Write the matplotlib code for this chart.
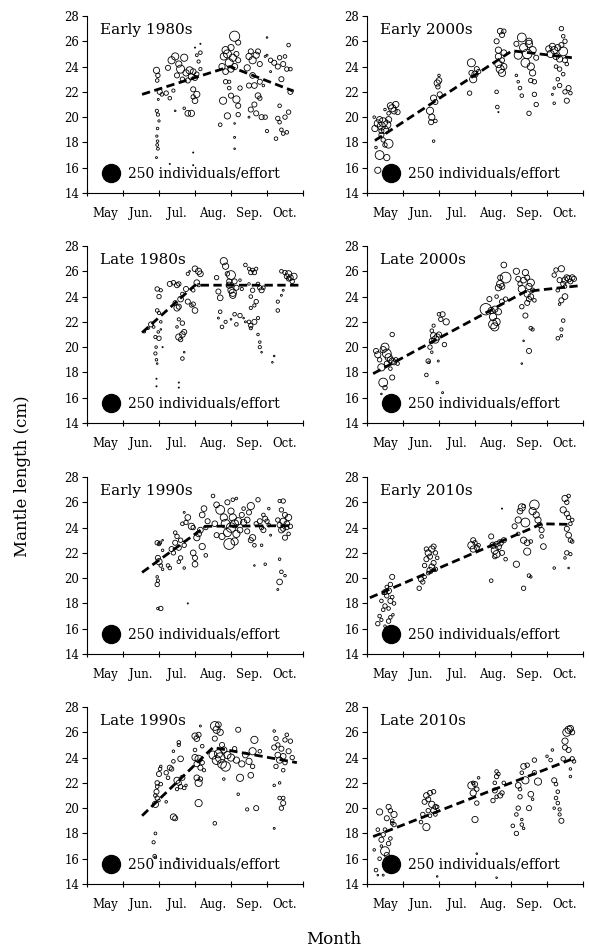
import matplotlib
matplotlib.use('Agg')
import matplotlib.pyplot as plt
import numpy as np

# Police serif proche de Cambria
plt.rcParams['font.family'] = ['DejaVu Serif']

# Mois (0 = début mai, 6 = fin octobre), étiquettes au milieu de chaque mois
month_labels = ['May', 'Jun.', 'Jul.', 'Aug.', 'Sep.', 'Oct.']
panel_names = ['Early 1980s', 'Early 2000s', 'Late 1980s', 'Late 2000s',
               'Early 1990s', 'Early 2010s', 'Late 1990s', 'Late 2010s']

# Points (mois, longueur du manteau en cm, individus/effort)
early_1980s = [
    (1.93, 23.7, 30), (1.97, 23.3, 15), (1.95, 22.9, 10), (2.02, 22.0, 20), (2.08, 21.8, 10),
    (1.94, 20.5, 8), (1.97, 20.2, 8), (2.0, 19.7, 4), (1.96, 19.1, 5), (1.94, 18.5, 4),
    (1.96, 18.1, 5), (1.95, 17.8, 6), (1.97, 17.5, 6), (1.93, 16.8, 3), (1.98, 21.4, 3),
    (2.25, 23.9, 20), (2.35, 24.5, 40), (2.45, 24.8, 40), (2.55, 24.2, 30), (2.6, 23.8, 50),
    (2.7, 24.7, 40), (2.75, 23.5, 30), (2.85, 23.7, 40), (2.9, 23.2, 30), (2.95, 23.6, 25),
    (3.0, 23.1, 20), (3.05, 23.4, 15), (2.5, 23.3, 20), (2.65, 23.0, 15), (2.8, 22.9, 20),
    (2.2, 21.9, 15), (2.3, 21.5, 10), (2.4, 22.1, 8), (2.95, 22.2, 20), (3.05, 21.8, 30),
    (3.0, 21.3, 25), (2.95, 21.6, 15), (2.8, 20.3, 25), (2.9, 20.3, 30), (2.7, 20.7, 5),
    (3.15, 25.1, 10), (3.1, 24.4, 8), (3.15, 23.8, 8), (3.05, 24.9, 6), (2.45, 20.5, 2),
    (2.3, 16.3, 1), (2.95, 17.2, 1), (2.95, 16.2, 1), (3.0, 25.5, 1), (3.15, 25.8, 1),
    (3.75, 24.0, 30), (3.8, 24.8, 40), (3.85, 25.3, 40), (3.9, 25.0, 50), (3.95, 24.3, 50),
    (4.0, 25.5, 30), (4.05, 24.7, 40), (4.1, 24.0, 30), (4.15, 25.0, 20), (4.2, 24.5, 20),
    (3.85, 23.6, 25), (4.0, 23.8, 30), (4.1, 26.4, 80), (4.2, 25.9, 20), (3.85, 22.8, 15),
    (3.95, 22.3, 10), (3.78, 21.3, 40), (3.7, 19.4, 10), (4.0, 21.7, 20), (3.9, 20.1, 30),
    (4.15, 21.4, 40), (4.2, 20.9, 20), (4.2, 20.2, 15), (4.25, 22.3, 15), (4.1, 19.5, 2),
    (4.1, 18.4, 3), (4.1, 17.5, 2), (3.95, 22.8, 8),
    (4.45, 23.9, 30), (4.5, 24.8, 30), (4.55, 25.2, 20), (4.6, 24.5, 40), (4.7, 24.9, 30),
    (4.75, 25.2, 20), (4.8, 24.2, 20), (4.6, 23.3, 25), (4.5, 22.5, 20), (4.65, 22.5, 25),
    (4.8, 22.8, 20), (4.75, 21.7, 25), (4.55, 20.6, 20), (4.65, 21.0, 20), (4.7, 20.3, 20),
    (4.85, 20.0, 20), (4.8, 21.5, 15), (4.5, 20.0, 3), (4.95, 20.0, 15), (4.9, 22.5, 5),
    (4.95, 24.8, 3), (5.0, 26.3, 2), (5.0, 18.9, 8),
    (5.1, 24.5, 15), (5.2, 24.3, 20), (5.3, 24.0, 20), (5.35, 24.7, 15), (5.45, 24.2, 20),
    (5.5, 24.8, 10), (5.55, 23.8, 15), (5.4, 23.0, 20), (5.6, 25.7, 10), (5.65, 23.8, 10),
    (5.65, 22.0, 20), (5.7, 22.1, 5), (5.35, 20.9, 10), (5.3, 19.9, 15), (5.35, 19.6, 10),
    (5.5, 20.0, 15), (5.6, 20.4, 15), (5.4, 19.0, 10), (5.45, 18.7, 10), (5.25, 18.3, 10),
    (5.55, 18.8, 10), (5.1, 23.6, 3), (5.0, 24.9, 3),
]

late_1980s = [
    (1.6, 21.2, 3), (1.7, 21.5, 5), (1.78, 21.8, 20), (1.85, 21.6, 6), (1.9, 20.8, 8),
    (1.95, 22.9, 10), (2.0, 22.7, 8), (1.95, 24.6, 15), (2.0, 24.0, 15), (2.05, 24.5, 8),
    (2.05, 22.0, 5), (2.0, 20.7, 15), (1.98, 21.2, 5), (1.92, 20.0, 5), (1.9, 19.5, 8),
    (1.93, 19.0, 5), (1.95, 18.7, 2), (1.93, 17.5, 1), (1.93, 16.9, 1), (2.1, 20.0, 1),
    (2.05, 21.4, 2),
    (2.3, 25.0, 20), (2.4, 25.1, 15), (2.5, 24.9, 20), (2.55, 25.0, 15), (2.45, 23.5, 15),
    (2.5, 23.1, 30), (2.55, 23.2, 20), (2.6, 23.8, 25), (2.65, 24.2, 10), (2.75, 24.6, 20),
    (2.8, 23.6, 20), (2.95, 23.4, 15), (3.0, 22.9, 25), (2.9, 23.3, 10), (2.55, 22.2, 8),
    (2.55, 20.8, 30), (2.65, 21.0, 25), (2.6, 20.6, 15), (2.7, 21.2, 20), (2.65, 21.9, 15),
    (2.5, 21.6, 5), (2.65, 19.1, 10), (2.7, 19.6, 2), (2.55, 17.2, 1), (2.55, 16.8, 1),
    (2.8, 25.8, 8), (2.85, 26.0, 2), (3.0, 26.2, 25), (3.1, 26.0, 30), (3.15, 25.8, 25),
    (3.05, 25.1, 25), (2.95, 24.5, 10), (3.1, 24.9, 8),
    (3.6, 25.5, 15), (3.65, 24.4, 20), (3.7, 23.9, 25), (3.65, 22.3, 3), (3.7, 22.8, 10),
    (3.75, 21.6, 10), (3.85, 22.0, 8), (3.8, 26.8, 40), (3.85, 26.4, 30), (3.9, 25.8, 15),
    (3.95, 24.9, 30), (4.0, 24.5, 30), (4.05, 24.3, 40), (4.0, 25.7, 60), (4.1, 25.2, 20),
    (4.15, 24.7, 20), (4.05, 24.1, 30), (3.95, 25.2, 20), (4.0, 22.2, 2), (4.1, 22.6, 10),
    (4.15, 21.8, 10), (4.25, 22.5, 15), (4.3, 24.6, 8), (4.25, 25.3, 5),
    (4.4, 26.5, 10), (4.5, 26.2, 8), (4.55, 25.9, 15), (4.6, 26.1, 10), (4.65, 25.9, 15),
    (4.7, 26.2, 8), (4.5, 25.0, 5), (4.6, 24.5, 15), (4.55, 24.0, 10), (4.75, 25.0, 10),
    (4.8, 24.7, 15), (4.85, 24.5, 20), (4.9, 24.7, 10), (4.7, 23.6, 15), (4.55, 23.1, 8),
    (4.65, 23.3, 8), (4.75, 22.3, 8), (4.5, 22.0, 10), (4.55, 21.7, 15), (4.65, 22.0, 20),
    (4.55, 21.5, 8), (4.75, 21.0, 5), (4.8, 20.4, 5), (4.8, 20.0, 8), (4.85, 19.6, 2),
    (4.4, 22.0, 3), (4.35, 22.3, 2),
    (5.3, 23.6, 8), (5.3, 22.9, 10), (5.4, 24.1, 3), (5.45, 24.5, 3), (5.4, 26.0, 10),
    (5.5, 25.9, 15), (5.55, 25.6, 20), (5.6, 25.8, 30), (5.65, 25.5, 25), (5.7, 25.2, 15),
    (5.75, 25.6, 30), (5.6, 25.4, 15), (5.2, 19.3, 2), (5.15, 18.8, 2),
]

early_1990s = [
    (1.95, 22.8, 15), (2.0, 22.7, 10), (2.03, 22.8, 8), (1.97, 21.6, 20), (2.0, 21.3, 30),
    (2.05, 21.0, 10), (2.1, 20.7, 5), (1.95, 20.1, 5), (1.97, 19.8, 8), (1.95, 19.5, 15),
    (1.97, 17.6, 5), (2.05, 17.6, 15), (2.1, 22.2, 5),
    (2.25, 21.0, 10), (2.3, 20.8, 10), (2.35, 22.3, 20), (2.4, 22.0, 15), (2.45, 22.8, 20),
    (2.5, 23.3, 15), (2.45, 23.6, 10), (2.55, 22.4, 20), (2.6, 21.6, 15), (2.55, 21.3, 10),
    (2.7, 20.8, 5), (2.6, 23.0, 15), (2.7, 22.6, 15), (2.65, 24.3, 10), (2.75, 24.4, 15),
    (2.8, 24.8, 25), (2.9, 24.1, 30), (2.95, 24.0, 15), (2.95, 22.0, 25), (3.0, 21.6, 20),
    (3.0, 21.1, 25), (3.05, 23.2, 30), (3.1, 23.5, 25), (3.15, 23.8, 25), (3.2, 22.5, 30),
    (3.2, 25.0, 25), (3.3, 24.0, 15), (3.35, 24.5, 20), (3.25, 25.5, 25), (3.3, 21.8, 10),
    (2.8, 18.0, 1), (2.7, 25.2, 3), (2.1, 23.0, 2),
    (3.5, 26.5, 10), (3.6, 25.8, 25), (3.7, 25.4, 60), (3.8, 24.8, 40), (3.85, 24.3, 60),
    (3.9, 23.6, 50), (3.95, 22.7, 90), (4.0, 24.0, 70), (4.05, 24.8, 40), (4.1, 24.3, 50),
    (4.15, 23.5, 40), (4.2, 24.5, 40), (4.0, 25.3, 30), (3.9, 26.0, 20), (4.05, 26.2, 10),
    (4.15, 26.3, 5), (3.75, 23.3, 30), (4.1, 22.9, 40), (3.55, 24.3, 25), (3.6, 23.4, 20),
    (4.3, 25.0, 20), (4.35, 24.4, 30), (4.25, 23.8, 25), (4.45, 24.6, 25), (4.5, 25.2, 20),
    (4.55, 25.7, 40), (4.45, 23.7, 20), (4.6, 23.2, 30), (4.55, 23.0, 20), (4.65, 22.6, 10),
    (4.65, 21.0, 2), (4.35, 25.5, 10),
    (4.75, 26.2, 15), (4.7, 24.3, 15), (4.8, 24.5, 20), (4.85, 24.0, 15), (4.9, 25.0, 10),
    (4.95, 24.7, 20), (4.9, 23.8, 20), (5.0, 24.5, 15), (5.05, 24.2, 10), (4.85, 22.6, 5),
    (4.95, 21.1, 5), (5.05, 25.5, 5), (5.1, 23.4, 3),
    (5.35, 26.1, 8), (5.45, 26.1, 15), (5.3, 24.6, 15), (5.35, 24.2, 20), (5.4, 23.8, 25),
    (5.45, 24.5, 30), (5.5, 25.0, 20), (5.55, 24.3, 25), (5.6, 24.8, 30), (5.4, 25.4, 15),
    (5.5, 23.2, 20), (5.6, 23.5, 10), (5.45, 23.9, 20), (5.65, 24.1, 15), (5.35, 21.5, 5),
    (5.4, 20.5, 10), (5.35, 19.7, 25), (5.5, 20.2, 5), (5.3, 19.1, 3), (5.55, 24.0, 15),
]

late_1990s = [
    (1.85, 17.3, 8), (1.9, 18.0, 6), (1.88, 16.2, 10), (1.9, 16.1, 5), (1.9, 20.3, 30),
    (1.95, 20.8, 15), (1.93, 21.3, 20), (1.9, 21.0, 10), (1.95, 22.0, 15), (2.0, 22.7, 20),
    (2.03, 23.1, 10), (2.05, 23.3, 5), (1.95, 21.7, 10), (2.05, 21.9, 10), (2.0, 20.6, 5),
    (2.2, 22.8, 15), (2.25, 22.4, 10), (2.3, 23.2, 20), (2.35, 23.1, 15), (2.4, 23.7, 10),
    (2.4, 24.5, 5), (2.4, 19.3, 30), (2.45, 19.2, 20), (2.2, 20.5, 5), (2.5, 22.2, 30),
    (2.55, 22.0, 20), (2.6, 21.7, 15), (2.65, 22.4, 20), (2.7, 21.6, 10), (2.6, 23.9, 25),
    (2.55, 25.2, 10), (2.55, 25.0, 8), (2.75, 21.8, 5), (2.5, 21.5, 8), (2.5, 16.0, 2),
    (3.0, 25.7, 30), (3.05, 25.5, 25), (3.1, 25.8, 20), (3.0, 24.0, 30), (3.05, 23.5, 25),
    (3.1, 23.9, 40), (3.15, 23.2, 20), (3.2, 23.6, 15), (3.05, 22.4, 25), (3.1, 22.0, 40),
    (3.15, 22.3, 15), (3.0, 24.6, 10), (3.1, 20.4, 40), (3.2, 24.9, 10), (3.15, 26.5, 3),
    (3.25, 23.0, 8), (3.55, 18.8, 10), (3.55, 26.5, 60), (3.6, 26.2, 40), (3.65, 26.6, 25),
    (3.7, 26.0, 30), (3.5, 24.2, 50), (3.6, 23.8, 60), (3.65, 24.3, 50), (3.7, 24.0, 70),
    (3.75, 23.5, 60), (3.85, 23.3, 70), (3.8, 24.6, 30), (3.9, 24.2, 40), (3.55, 25.5, 20),
    (3.75, 25.0, 20), (3.8, 22.3, 5),
    (4.0, 24.0, 40), (4.15, 23.8, 30), (4.2, 26.2, 20), (4.25, 22.4, 40), (4.3, 23.5, 30),
    (4.4, 24.2, 25), (4.5, 23.7, 30), (4.6, 24.5, 40), (4.65, 25.4, 40), (4.55, 22.6, 25),
    (4.6, 23.3, 15), (4.7, 20.0, 20), (4.45, 19.9, 8), (4.2, 21.1, 5), (4.1, 24.7, 15),
    (4.8, 24.5, 10),
    (5.2, 24.8, 20), (5.25, 25.5, 15), (5.3, 24.2, 25), (5.35, 23.8, 30), (5.3, 25.0, 15),
    (5.4, 24.7, 20), (5.45, 24.1, 25), (5.5, 25.4, 15), (5.55, 25.8, 10), (5.6, 24.5, 20),
    (5.65, 25.3, 15), (5.7, 24.0, 15), (5.25, 23.3, 15), (5.45, 23.0, 10), (5.35, 22.0, 5),
    (5.2, 21.8, 5), (5.35, 20.8, 10), (5.45, 20.8, 10), (5.4, 20.0, 15), (5.45, 20.4, 20),
    (5.2, 18.4, 3), (5.5, 23.6, 15), (5.2, 26.1, 5),
]

early_2000s = [
    (0.2, 20.0, 5), (0.22, 19.1, 30), (0.3, 19.5, 40), (0.35, 19.8, 30), (0.4, 19.3, 50),
    (0.45, 19.6, 60), (0.5, 19.0, 40), (0.55, 19.4, 50), (0.6, 19.8, 30), (0.4, 18.6, 20),
    (0.45, 18.2, 15), (0.5, 17.8, 15), (0.6, 17.9, 60), (0.35, 17.0, 60), (0.55, 16.8, 30),
    (0.3, 15.8, 30), (0.25, 17.6, 5), (0.65, 20.9, 30), (0.7, 20.7, 40), (0.75, 20.5, 30),
    (0.8, 21.0, 30), (0.85, 20.4, 20), (0.6, 20.3, 10), (0.5, 20.6, 5), (0.4, 18.9, 20),
    (1.75, 20.5, 40), (1.8, 20.0, 30), (1.78, 19.6, 20), (1.85, 21.5, 30), (1.9, 21.2, 20),
    (1.95, 22.7, 30), (2.0, 22.9, 25), (1.97, 22.4, 15), (2.0, 23.3, 5), (1.85, 18.1, 5),
    (1.9, 19.7, 10), (2.02, 21.8, 20),
    (2.9, 24.3, 50), (2.95, 23.0, 40), (3.0, 23.4, 30), (3.05, 23.8, 20), (2.85, 21.9, 15),
    (3.1, 23.6, 15), (2.9, 23.5, 20),
    (3.6, 26.0, 20), (3.65, 25.3, 30), (3.7, 26.8, 25), (3.75, 26.5, 20), (3.8, 26.8, 15),
    (3.65, 24.2, 40), (3.7, 23.8, 50), (3.75, 23.5, 40), (3.8, 24.0, 30), (3.65, 24.8, 30),
    (3.8, 25.1, 25), (3.6, 22.0, 10), (3.62, 20.8, 10), (3.65, 20.4, 1), (3.75, 24.5, 20),
    (4.15, 25.8, 20), (4.2, 24.9, 50), (4.3, 26.3, 60), (4.35, 25.5, 50), (4.4, 24.3, 60),
    (4.45, 25.0, 70), (4.5, 25.8, 40), (4.55, 24.0, 40), (4.6, 23.5, 30), (4.65, 22.8, 15),
    (4.55, 22.9, 15), (4.5, 26.0, 30), (4.6, 25.3, 40), (4.2, 22.8, 5), (4.25, 22.3, 10),
    (4.3, 21.7, 10), (4.5, 20.3, 15), (4.65, 21.8, 15), (4.7, 21.0, 15), (4.7, 24.7, 20),
    (4.15, 23.3, 5),
    (5.05, 25.4, 30), (5.1, 25.0, 40), (5.15, 25.6, 30), (5.2, 25.3, 40), (5.25, 24.8, 30),
    (5.3, 25.5, 30), (5.35, 24.6, 30), (5.4, 25.7, 20), (5.45, 25.2, 60), (5.5, 24.5, 20),
    (5.4, 27.0, 15), (5.45, 26.4, 10), (5.5, 26.0, 15), (5.25, 24.0, 10), (5.35, 23.8, 15),
    (5.3, 23.0, 10), (5.35, 22.5, 15), (5.5, 22.0, 15), (5.55, 21.3, 20), (5.6, 22.3, 20),
    (5.65, 21.9, 10), (5.2, 22.3, 5), (5.2, 21.1, 5), (5.15, 21.8, 3), (5.45, 23.4, 10),
    (5.55, 24.2, 10),
]

late_2000s = [
    (0.25, 19.7, 20), (0.3, 19.4, 30), (0.35, 19.0, 15), (0.4, 18.4, 40), (0.45, 19.8, 30),
    (0.5, 20.0, 50), (0.55, 19.5, 60), (0.6, 19.2, 40), (0.65, 19.0, 30), (0.7, 18.9, 30),
    (0.75, 18.8, 20), (0.8, 19.0, 15), (0.55, 18.7, 20), (0.7, 21.0, 15), (0.45, 17.2, 60),
    (0.5, 16.8, 15), (0.7, 17.6, 20), (0.65, 18.3, 10), (0.4, 16.3, 2), (0.85, 18.7, 10),
    (1.65, 17.8, 10), (1.7, 18.9, 15), (1.72, 18.8, 5), (1.75, 20.0, 15), (1.8, 20.5, 20),
    (1.85, 20.9, 30), (1.9, 20.6, 40), (1.95, 20.8, 30), (2.0, 21.0, 20), (1.8, 21.3, 10),
    (1.85, 21.7, 8), (1.8, 19.6, 5), (1.95, 17.2, 5), (1.98, 18.9, 3), (2.05, 22.2, 15),
    (2.1, 22.6, 20), (2.2, 22.0, 30), (2.15, 20.2, 15), (2.1, 16.4, 3), (2.0, 22.6, 10),
    (3.3, 23.0, 100), (3.4, 23.8, 20), (3.45, 22.9, 30), (3.5, 22.4, 40), (3.5, 21.8, 60),
    (3.55, 21.6, 50), (3.6, 22.0, 40), (3.55, 23.0, 30), (3.65, 22.8, 30), (3.65, 24.7, 30),
    (3.7, 25.0, 40), (3.75, 24.8, 25), (3.7, 25.5, 20), (3.8, 26.5, 25), (3.85, 25.5, 90),
    (3.75, 23.6, 20), (3.85, 23.8, 15), (3.6, 24.0, 10),
    (4.15, 26.0, 30), (4.2, 25.4, 20), (4.25, 25.0, 15), (4.3, 24.6, 40), (4.35, 25.3, 25),
    (4.4, 25.9, 30), (4.45, 25.5, 20), (4.5, 24.8, 30), (4.55, 25.1, 40), (4.45, 24.2, 30),
    (4.5, 23.8, 20), (4.55, 24.0, 25), (4.45, 23.5, 20), (4.3, 23.2, 15), (4.4, 22.5, 20),
    (4.55, 21.5, 10), (4.6, 21.4, 8), (4.5, 19.7, 20), (4.35, 20.5, 2), (4.3, 18.7, 2),
    (4.6, 24.5, 15), (4.65, 23.7, 10),
    (5.2, 25.7, 15), (5.25, 26.1, 15), (5.35, 25.3, 20), (5.4, 26.2, 30), (5.45, 25.0, 20),
    (5.5, 25.3, 30), (5.55, 25.5, 25), (5.6, 25.4, 30), (5.65, 25.2, 20), (5.7, 25.5, 25),
    (5.75, 25.4, 20), (5.3, 24.5, 10), (5.4, 23.7, 20), (5.5, 24.0, 25), (5.35, 23.4, 5),
    (5.45, 22.1, 10), (5.4, 21.4, 8), (5.3, 20.7, 10), (5.4, 20.9, 5), (5.5, 24.8, 10),
]

early_2010s = [
    (0.3, 16.4, 15), (0.35, 17.0, 10), (0.4, 16.7, 8), (0.45, 17.5, 10), (0.5, 17.8, 15),
    (0.55, 18.6, 15), (0.5, 18.9, 20), (0.6, 19.0, 25), (0.55, 19.3, 10), (0.65, 19.5, 15),
    (0.7, 20.1, 20), (0.65, 18.2, 20), (0.7, 18.5, 10), (0.6, 17.6, 10), (0.6, 16.6, 15),
    (0.65, 16.9, 10), (0.72, 17.1, 5), (0.5, 16.2, 5), (0.75, 18.0, 10), (0.4, 18.2, 10),
    (0.45, 18.8, 5),
    (1.45, 19.2, 15), (1.5, 19.9, 20), (1.55, 19.7, 15), (1.6, 20.1, 10), (1.6, 21.0, 15),
    (1.65, 21.5, 20), (1.7, 22.0, 30), (1.75, 21.7, 20), (1.8, 22.3, 30), (1.85, 22.5, 20),
    (1.9, 22.0, 15), (1.75, 20.6, 30), (1.8, 20.9, 25), (1.85, 21.2, 20), (1.9, 20.7, 15),
    (1.7, 20.4, 10), (1.65, 22.3, 15), (1.95, 21.6, 10),
    (2.9, 22.6, 40), (2.95, 23.0, 20), (3.0, 22.8, 15), (3.05, 22.4, 20), (3.1, 22.6, 10),
    (2.95, 22.3, 30),
    (3.45, 23.3, 20), (3.5, 22.6, 30), (3.55, 22.2, 40), (3.6, 21.9, 40), (3.65, 22.5, 30),
    (3.7, 22.8, 30), (3.75, 22.0, 20), (3.8, 23.0, 20), (3.6, 22.7, 20), (3.55, 21.7, 15),
    (3.45, 19.8, 10), (3.85, 21.5, 10), (3.75, 25.5, 1),
    (4.1, 24.1, 20), (4.15, 21.1, 30), (4.2, 24.6, 30), (4.25, 25.3, 25), (4.3, 25.6, 40),
    (4.35, 23.0, 30), (4.4, 24.4, 60), (4.45, 22.8, 25), (4.45, 22.1, 40), (4.35, 19.2, 15),
    (4.5, 20.2, 10), (4.55, 20.1, 5), (4.6, 25.3, 40), (4.65, 25.8, 70), (4.7, 25.0, 30),
    (4.75, 24.6, 30), (4.8, 24.2, 20), (4.85, 23.8, 20), (4.85, 23.3, 10), (4.9, 22.5, 25),
    (4.55, 22.9, 10), (4.35, 25.7, 10), (4.2, 23.5, 10),
    (5.2, 20.8, 5), (5.45, 25.4, 30), (5.5, 26.3, 30), (5.55, 26.0, 15), (5.6, 26.5, 10),
    (5.55, 25.1, 20), (5.6, 24.8, 15), (5.65, 24.3, 10), (5.55, 23.9, 20), (5.6, 23.4, 25),
    (5.65, 23.0, 15), (5.7, 22.9, 10), (5.55, 22.0, 15), (5.5, 21.6, 5), (5.65, 21.9, 8),
    (5.6, 20.8, 2), (5.7, 24.6, 10),
]

late_2010s = [
    (0.2, 16.7, 5), (0.25, 15.1, 10), (0.3, 14.7, 2), (0.35, 16.0, 10), (0.3, 18.3, 10),
    (0.35, 19.7, 30), (0.4, 17.5, 20), (0.45, 17.9, 15), (0.5, 18.3, 10), (0.5, 16.6, 60),
    (0.55, 16.3, 20), (0.6, 17.2, 15), (0.55, 19.2, 20), (0.6, 20.1, 20), (0.65, 19.8, 15),
    (0.7, 19.0, 10), (0.75, 19.5, 30), (0.7, 18.8, 10), (0.75, 18.7, 15), (0.45, 14.7, 3),
    (0.4, 17.0, 5), (0.5, 15.8, 5), (0.65, 17.6, 10),
    (1.5, 18.9, 10), (1.55, 19.5, 15), (1.6, 20.5, 20), (1.65, 21.0, 25), (1.7, 20.7, 20),
    (1.75, 21.2, 20), (1.8, 20.3, 30), (1.85, 19.8, 25), (1.9, 20.1, 20), (1.7, 19.8, 15),
    (1.75, 19.4, 10), (1.65, 18.5, 40), (1.85, 21.3, 15), (1.9, 19.5, 10), (1.95, 20.1, 10),
    (1.95, 14.6, 2),
    (2.9, 21.8, 40), (2.95, 21.2, 30), (3.0, 21.9, 20), (3.05, 21.5, 15), (3.05, 20.4, 15),
    (3.1, 22.4, 5), (3.0, 19.1, 30), (3.05, 16.4, 2), (2.95, 22.0, 10),
    (3.5, 20.6, 15), (3.55, 21.4, 20), (3.55, 22.0, 10), (3.6, 22.5, 15), (3.6, 22.9, 10),
    (3.65, 22.7, 10), (3.7, 21.0, 20), (3.75, 21.2, 15), (3.8, 22.0, 10), (3.6, 20.9, 10),
    (3.6, 14.5, 2),
    (4.05, 18.6, 10), (4.15, 18.0, 15), (4.15, 19.5, 10), (4.2, 20.0, 15), (4.2, 21.8, 25),
    (4.25, 20.9, 15), (4.3, 22.8, 10), (4.35, 23.3, 25), (4.4, 22.2, 40), (4.45, 23.4, 15),
    (4.5, 20.0, 20), (4.55, 21.1, 25), (4.3, 19.1, 5), (4.3, 18.7, 10), (4.35, 18.4, 5),
    (4.65, 22.8, 15), (4.75, 22.1, 40), (4.65, 23.8, 15), (4.6, 20.7, 5), (4.25, 21.5, 10),
    (5.0, 24.1, 5), (5.1, 23.8, 10), (5.15, 24.6, 5), (5.2, 22.2, 20), (5.25, 21.9, 10),
    (5.3, 21.3, 10), (5.25, 20.8, 10), (5.3, 20.4, 10), (5.35, 19.9, 8), (5.35, 19.5, 8),
    (5.4, 19.0, 20), (5.45, 23.9, 15), (5.5, 24.8, 20), (5.5, 25.3, 30), (5.55, 26.0, 50),
    (5.6, 26.2, 40), (5.65, 26.3, 30), (5.7, 26.0, 20), (5.6, 24.6, 20), (5.7, 23.9, 15),
    (5.65, 23.1, 5), (5.65, 22.5, 5), (5.75, 23.7, 10), (5.2, 20.0, 5),
]

# Courbes de tendance (segments en pointillés)
trend_e80 = [(1.53, 21.8), (3.97, 24.0), (5.7, 22.1)]
trend_l80 = [(1.53, 21.15), (3.0, 24.9), (5.9, 24.9)]
trend_e90 = [(1.53, 20.45), (3.3, 24.1), (5.7, 24.15)]
trend_l90 = [(1.53, 19.4), (3.5, 24.8), (5.83, 23.6)]
trend_e00 = [(0.22, 18.15), (4.03, 25.25), (5.69, 24.7)]
trend_l00 = [(0.17, 17.9), (4.4, 24.4), (5.87, 24.85)]
trend_e10 = [(0.08, 18.45), (4.86, 24.3), (5.64, 24.25)]
trend_l10 = [(0.17, 17.75), (5.67, 23.85)]

panel_points = [early_1980s, early_2000s, late_1980s, late_2000s,
                early_1990s, early_2010s, late_1990s, late_2010s]
panel_trends = [trend_e80, trend_e00, trend_l80, trend_l00,
                trend_e90, trend_e10, trend_l90, trend_l10]

legend_n = 250
size_scale = 168.0 / legend_n  # aire du marqueur (pt^2) par individu/effort

fig = plt.figure(figsize=(5.89, 9.5), dpi=100)

col_x = [87 / 589, 367 / 589]
ax_w = 216 / 589
row_bottom = [1 - 193 / 950, 1 - 423 / 950, 1 - 654 / 950, 1 - 884 / 950]
ax_h = 177 / 950

for i, name in enumerate(panel_names):
    row, col = i // 2, i % 2
    ax = fig.add_axes([col_x[col], row_bottom[row], ax_w, ax_h])

    pts = np.array(panel_points[i])
    ax.scatter(pts[:, 0], pts[:, 1], s=pts[:, 2] * size_scale,
               facecolors='none', edgecolors='black', linewidths=0.6, zorder=2)

    tr = np.array(panel_trends[i])
    ax.plot(tr[:, 0], tr[:, 1], color='black', lw=2, ls=(0, (3, 1.6)), zorder=3)

    # Légende de taille
    ax.scatter([0.66], [15.55], s=legend_n * size_scale, color='black', zorder=4)
    ax.text(1.14, 15.55, '%d individuals/effort' % legend_n, fontsize=10,
            va='center', ha='left', zorder=5)

    ax.text(0.35, 26.9, name, fontsize=11, va='center', ha='left')

    ax.set_xlim(0, 6)
    ax.set_ylim(14, 28)
    ax.set_yticks(range(14, 29, 2))
    ax.set_xticks(range(0, 7))
    ax.set_xticklabels([])
    ax.set_xticks(np.arange(0.5, 6, 1), minor=True)
    ax.set_xticklabels(month_labels, minor=True)
    ax.tick_params(axis='x', which='minor', length=0, labelsize=8.5, pad=10)
    ax.tick_params(axis='x', which='major', direction='inout', length=4, width=0.8)
    ax.tick_params(axis='y', direction='out', length=3.5, width=0.8, labelsize=8.5, pad=2)
    for side in ['top', 'right']:
        ax.spines[side].set_visible(False)
    for side in ['left', 'bottom']:
        ax.spines[side].set_linewidth(0.8)

fig.text(334 / 589, 1 - 939 / 950, 'Month', fontsize=12, ha='center', va='center')
fig.text(23 / 589, 1 - 476 / 950, 'Mantle length (cm)', fontsize=12,
         ha='center', va='center', rotation=90)

plt.savefig('out.png', dpi=100)
